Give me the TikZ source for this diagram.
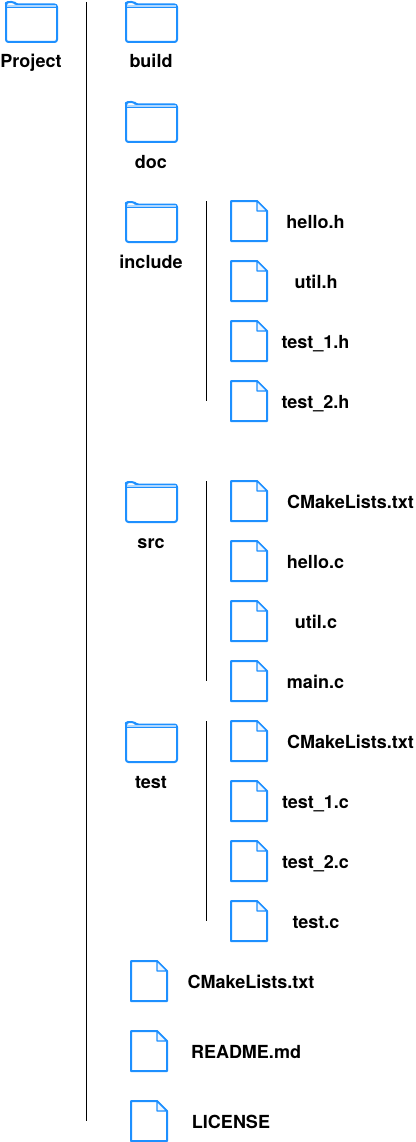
\documentclass[tikz,border=0pt]{standalone}
\usepackage{fontspec}
\setmainfont{TeX Gyre Heros}
\definecolor{iconblue}{HTML}{1E90FF}
\tikzset{
  x=1pt,y=-1pt,
  iconline/.style={draw=iconblue,line width=2pt,line join=round},
  iconfill/.style={draw=iconblue,fill=iconblue!8,line width=1.4pt,line join=round},
  guide/.style={draw=black,line width=0.9pt},
  lbl/.style={inner sep=0pt,font=\fontsize{18}{20}\selectfont\bfseries,text=black,anchor=base},
  pics/foldericon/.style={code={
    \draw[iconline,rounded corners=2.5pt] (0,4) -- (0,1) -- (2,0) -- (8,0) -- (10,2.5) -- (51,2.5) -- (51,40) -- (0,40) -- cycle;
    \draw[draw=iconblue!35,line width=1.2pt] (1,4) -- (50,4);
    \draw[draw=iconblue,line width=1.2pt] (0,5.4) -- (51,5.4);
  }},
  pics/fileicon/.style={code={
    \draw[iconline] (0,0) -- (26,0) -- (36,10) -- (36,40) -- (0,40) -- cycle;
    \draw[iconfill] (26,0) -- (26,10) -- (36,10) -- cycle;
  }},
}
\begin{document}
\begin{tikzpicture}
\useasboundingbox (0,0) rectangle (415,1142);
% guides
\coordinate (m1) at (86,2);   \coordinate (m2) at (86,1121);
\coordinate (a1) at (206.5,201); \coordinate (a2) at (206.5,401);
\coordinate (b1) at (206.5,481); \coordinate (b2) at (206.5,681);
\coordinate (c1) at (206.5,721); \coordinate (c2) at (206.5,921);
\draw[guide] (m1) -- (m2);
\draw[guide] (a1) -- (a2);
\draw[guide] (b1) -- (b2);
\draw[guide] (c1) -- (c2);
% folders
\foreach \px/\py in {6/2,126/2,126/102,126/202,126/482,126/722}
  \pic at (\px,\py) {foldericon};
% files
\foreach \py in {201,261,321,381,481,541,601,661,721,781,841,901}
  \pic at (231,\py) {fileicon};
\foreach \py in {961,1031,1101}
  \pic at (131,\py) {fileicon};
% labels
\node[lbl] (project) at (31,68) {Project};
\node[lbl] (build) at (151,68) {build};
\node[lbl] (doc) at (151,168) {doc};
\node[lbl] (include) at (151,268) {include};
\node[lbl] (src) at (151,548) {src};
\node[lbl] (test) at (151,788) {test};
\node[lbl] (helloh) at (315.5,228) {hello.h};
\node[lbl] (utilh) at (316,288) {util.h};
\node[lbl] (testoneh) at (315.5,348) {test\_1.h};
\node[lbl] (testtwoh) at (315.5,408) {test\_2.h};
\node[lbl] (cmsrc) at (350.5,508) {CMakeLists.txt};
\node[lbl] (helloc) at (315.5,568) {hello.c};
\node[lbl] (utilc) at (316,628) {util.c};
\node[lbl] (mainc) at (315.5,688) {main.c};
\node[lbl] (cmtest) at (350.5,748) {CMakeLists.txt};
\node[lbl] (testonec) at (315.5,808) {test\_1.c};
\node[lbl] (testtwoc) at (315.5,868) {test\_2.c};
\node[lbl] (testc) at (316,928) {test.c};
\node[lbl] (cmroot) at (251,988) {CMakeLists.txt};
\node[lbl] (readme) at (246,1058) {README.md};
\node[lbl] (license) at (231,1128) {LICENSE};
\end{tikzpicture}
\end{document}
